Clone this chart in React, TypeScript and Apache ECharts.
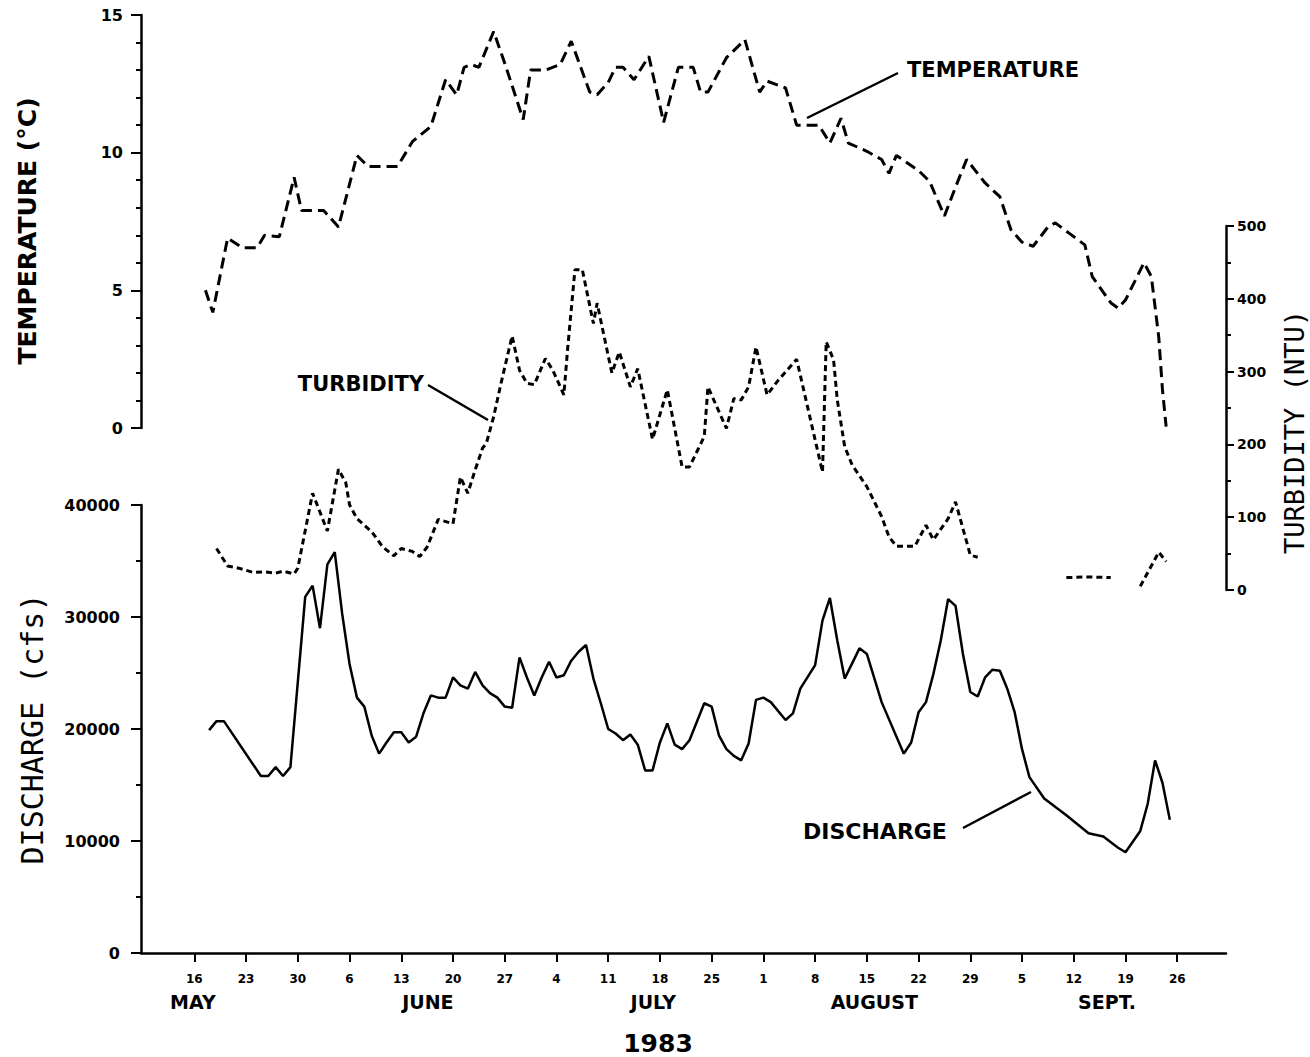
import React, { useEffect, useRef } from "react";
import * as echarts from "echarts";

// x values are days counted from April 30, 1983 (May 16 = 16, June 1 = 32, July 1 = 62, Aug 1 = 93, Sept 1 = 124)
const dayTicks = [16, 23, 30, 37, 44, 51, 58, 65, 72, 79, 86, 93, 100, 107, 114, 121, 128, 135, 142, 149];
const dayTickLabels = ["16", "23", "30", "6", "13", "20", "27", "4", "11", "18", "25", "1", "8", "15", "22", "29", "5", "12", "19", "26"];
const monthDays = [15.8, 47.6, 78.1, 108, 139.5];
const monthNames = ["MAY", "JUNE", "JULY", "AUGUST", "SEPT."];

const tempDays = [17.5, 18.5, 20.5, 22.5, 24.5, 25.5, 27.5, 29.5, 30.5, 33.5, 35.5, 38, 39.5, 43.5, 45.5, 48, 50, 51.5, 52.5, 53.5, 54.5, 56.5, 58, 60.5, 61.5, 63.5, 65.5, 67, 69.5, 70.5, 72, 73, 74, 75.5, 77.5, 79.5, 81.5, 83.5, 84.5, 85.5, 88, 90.5, 92.5, 93.5, 95, 96, 97.5, 100.5, 102, 103.5, 104.5, 107, 109, 110, 111, 114, 115.5, 117.5, 119, 120.5, 123, 125, 126.5, 128, 129.5, 131.5, 132.5, 134.5, 136.5, 137.5, 140, 141, 142, 144.5, 145.5, 146.5, 147, 147.5];
const tempValues = [5.0, 4.2, 6.9, 6.55, 6.55, 7.0, 6.95, 9.1, 7.9, 7.9, 7.3, 9.9, 9.5, 9.5, 10.4, 10.95, 12.65, 12.1, 13.1, 13.2, 13.1, 14.4, 13.25, 11.2, 13.0, 13.0, 13.2, 14.05, 12.2, 12.1, 12.55, 13.1, 13.1, 12.65, 13.5, 11.1, 13.1, 13.1, 12.2, 12.2, 13.45, 14.1, 12.2, 12.6, 12.45, 12.35, 11.0, 11.0, 10.35, 11.25, 10.35, 10.05, 9.75, 9.25, 9.9, 9.35, 8.95, 7.7, 8.75, 9.75, 8.9, 8.4, 7.2, 6.75, 6.6, 7.3, 7.45, 7.05, 6.65, 5.5, 4.55, 4.35, 4.65, 6.0, 5.5, 3.3, 1.4, 0.05];

const turbDays = [19, 20.5, 22, 24, 25.5, 27, 28, 29.5, 30, 32, 34, 35.5, 36.5, 37, 38, 40, 41.5, 43, 44, 45.5, 46.5, 47.5, 49, 51, 52, 53, 54, 55, 55.5, 56.5, 57.5, 59, 60, 61, 62, 63.5, 64.5, 66, 66.5, 67.5, 68.5, 70, 70.5, 72.5, 73.5, 75, 76, 78, 80, 82, 83, 85, 85.5, 88, 89, 90, 91, 92, 93.5, 95, 97.5, 101, 101.5, 102.5, 103, 104, 105, 107, 109, 110, 111, 113.5, 115, 116, 118, 119, 121, 122, 128, 134, 137, 140, 142, 144, 146.5, 147.5];
const turbValues: (number | string)[] = [57, 33, 30, 24, 25, 23, 26, 22, 30, 133, 81, 166, 147, 117, 98, 80, 59, 47, 57, 53, 46, 59, 97, 91, 155, 133, 165, 195, 201, 238, 284, 349, 302, 284, 282, 318, 302, 268, 330, 440, 440, 366, 394, 298, 327, 279, 304, 207, 275, 169, 169, 211, 279, 222, 263, 261, 279, 334, 268, 288, 317, 162, 341, 316, 261, 197, 172, 142, 101, 73, 60, 60, 89, 69, 98, 121, 48, 45, "-", 17, 18, 17, "-", 5, 52, 39];

const dischDays = [18, 19, 20, 25, 26, 27, 28, 29, 31, 32, 33, 34, 35, 36, 37, 38, 39, 40, 41, 42, 43, 44, 45, 46, 47, 48, 49, 50, 51, 52, 53, 54, 55, 56, 57, 58, 59, 60, 61, 62, 63, 64, 65, 66, 67, 68, 69, 70, 71, 72, 73, 74, 75, 76, 77, 78, 79, 80, 81, 82, 83, 85, 86, 87, 88, 89, 90, 91, 92, 93, 94, 96, 97, 98, 100, 101, 102, 103, 104, 106, 107, 109, 112, 113, 114, 115, 116, 117, 118, 119, 120, 121, 122, 123, 124, 125, 126, 127, 128, 129, 131, 134, 137, 139, 141, 142, 144, 145, 146, 147, 148];
const dischValues = [19900, 20700, 20700, 15800, 15800, 16600, 15800, 16600, 31800, 32800, 29000, 34700, 35800, 30300, 25800, 22800, 22000, 19400, 17800, 18800, 19700, 19700, 18800, 19300, 21400, 23000, 22800, 22800, 24600, 23900, 23600, 25100, 23900, 23200, 22800, 22000, 21900, 26400, 24600, 23000, 24600, 26000, 24600, 24800, 26100, 26900, 27500, 24500, 22300, 20000, 19600, 19000, 19500, 18600, 16300, 16300, 18800, 20500, 18600, 18200, 19000, 22300, 22000, 19400, 18200, 17600, 17200, 18700, 22600, 22800, 22400, 20800, 21400, 23600, 25700, 29700, 31700, 27900, 24500, 27200, 26700, 22400, 17800, 18800, 21500, 22400, 24900, 27900, 31600, 31000, 26700, 23300, 22900, 24600, 25300, 25200, 23600, 21500, 18200, 15700, 13800, 12300, 10700, 10400, 9400, 9000, 10900, 13300, 17200, 15200, 11900];

const pickLabel = (vals: number[], labels: string[]) => (v: number) => {
  for (let i = 0; i < vals.length; i++) if (Math.abs(vals[i] - v) < 0.01) return labels[i];
  return "";
};

export default function App() {
  const ref = useRef<HTMLDivElement>(null);
  useEffect(() => {
    const chart = echarts.init(ref.current!, null, { renderer: "svg" });
    const black = "#000";
    const bold = { fontFamily: "DejaVu Sans", fontWeight: "bold", color: black };
    const xMin = 8.78;
    const xMax = 155.6;
    const axisLineStyle = { color: black, width: 2.5 };
    const tickStyle = { color: black, width: 2 };
    const textStyle = (font: string, text: string, align = "center") => ({
      text,
      font,
      fill: black,
      align,
      verticalAlign: "middle",
      textAlign: align,
      textVerticalAlign: "middle",
    });
    const yAx = (gridIndex: number, position: string, max: number, major: number, minorSplit: number, tickLen: number, margin: number, fontSize: number) => ({
      type: "value",
      gridIndex,
      position,
      min: 0,
      max,
      interval: major,
      axisLine: { show: true, lineStyle: axisLineStyle },
      axisTick: { show: true, length: tickLen, lineStyle: tickStyle },
      minorTick: { show: true, splitNumber: minorSplit, length: 5, lineStyle: { color: black, width: 2 } },
      axisLabel: { show: true, margin, fontSize, formatter: (v: number) => String(v), ...bold },
      splitLine: { show: false },
      minorSplitLine: { show: false },
    });

    const option: any = {
      animation: false,
      backgroundColor: "#fff",
      grid: [
        { left: 141, top: 15, width: 1085, height: 413, outerBoundsMode: "none" },
        { left: 141, top: 505, width: 1085, height: 448, outerBoundsMode: "none" },
        { left: 141, top: 226, width: 1085, height: 364, outerBoundsMode: "none" },
      ],
      xAxis: [
        { type: "value", gridIndex: 0, min: xMin, max: xMax, show: false },
        {
          type: "value",
          gridIndex: 1,
          min: xMin,
          max: xMax,
          position: "bottom",
          axisLine: { show: true, onZero: false, lineStyle: axisLineStyle },
          axisTick: { show: true, customValues: dayTicks, length: 9, lineStyle: tickStyle },
          axisLabel: { show: true, customValues: dayTicks, formatter: pickLabel(dayTicks, dayTickLabels), margin: 20, fontSize: 12, ...bold },
          splitLine: { show: false },
        },
        {
          type: "value",
          gridIndex: 2,
          min: xMin,
          max: xMax,
          position: "bottom",
          offset: 363,
          axisLine: { show: false, onZero: false },
          axisTick: { show: false },
          axisLabel: { show: true, customValues: monthDays, formatter: pickLabel(monthDays, monthNames), margin: 39, fontSize: 19, ...bold },
          splitLine: { show: false },
        },
      ],
      yAxis: [
        yAx(0, "left", 15, 5, 5, 10, 18, 16),
        yAx(1, "left", 40000, 10000, 2, 10, 21, 16),
        yAx(2, "right", 500, 100, 2, 8, 11, 14),
      ],
      series: [
        {
          name: "Temperature",
          type: "line",
          xAxisIndex: 0,
          yAxisIndex: 0,
          symbol: "none",
          data: tempDays.map((d, i) => [d, tempValues[i]]),
          lineStyle: { color: black, width: 3, type: [11, 6] },
        },
        {
          name: "Turbidity",
          type: "line",
          xAxisIndex: 2,
          yAxisIndex: 2,
          symbol: "none",
          connectNulls: false,
          data: turbDays.map((d, i) => [d, turbValues[i]]),
          lineStyle: { color: black, width: 3, type: [6, 4] },
        },
        {
          name: "Discharge",
          type: "line",
          xAxisIndex: 1,
          yAxisIndex: 1,
          symbol: "none",
          data: dischDays.map((d, i) => [d, dischValues[i]]),
          lineStyle: { color: black, width: 2.5 },
        },
      ],
      graphic: [
        { type: "text", x: 27, y: 231, rotation: Math.PI / 2, style: textStyle('bold 25px "DejaVu Sans"', "TEMPERATURE (°C)") },
        { type: "text", x: 32, y: 729, rotation: Math.PI / 2, style: textStyle('30px "DejaVu Sans Mono"', "DISCHARGE (cfs)") },
        { type: "text", x: 1294, y: 432, rotation: Math.PI / 2, style: textStyle('27px "DejaVu Sans Mono"', "TURBIDITY (NTU)") },
        { type: "text", x: 907, y: 70, style: textStyle('bold 21px "DejaVu Sans"', "TEMPERATURE", "left") },
        { type: "line", shape: { x1: 807, y1: 118, x2: 898, y2: 73 }, style: { stroke: black, lineWidth: 2.5 } },
        { type: "text", x: 424, y: 384, style: textStyle('bold 21px "DejaVu Sans"', "TURBIDITY", "right") },
        { type: "line", shape: { x1: 428, y1: 385, x2: 488, y2: 420 }, style: { stroke: black, lineWidth: 2.5 } },
        { type: "text", x: 803, y: 831, style: textStyle('bold 22px "DejaVu Sans"', "DISCHARGE", "left") },
        { type: "line", shape: { x1: 963, y1: 828, x2: 1031, y2: 792 }, style: { stroke: black, lineWidth: 2.5 } },
        { type: "text", x: 658, y: 1043, style: textStyle('bold 25px "DejaVu Sans"', "1983") },
      ],
    };
    chart.setOption(option);
    return () => chart.dispose();
  }, []);
  return (
    <div
      ref={ref}
      style={{ position: "absolute", left: 0, top: 0, width: 1310, height: 1057, background: "#fff" }}
    />
  );
}
